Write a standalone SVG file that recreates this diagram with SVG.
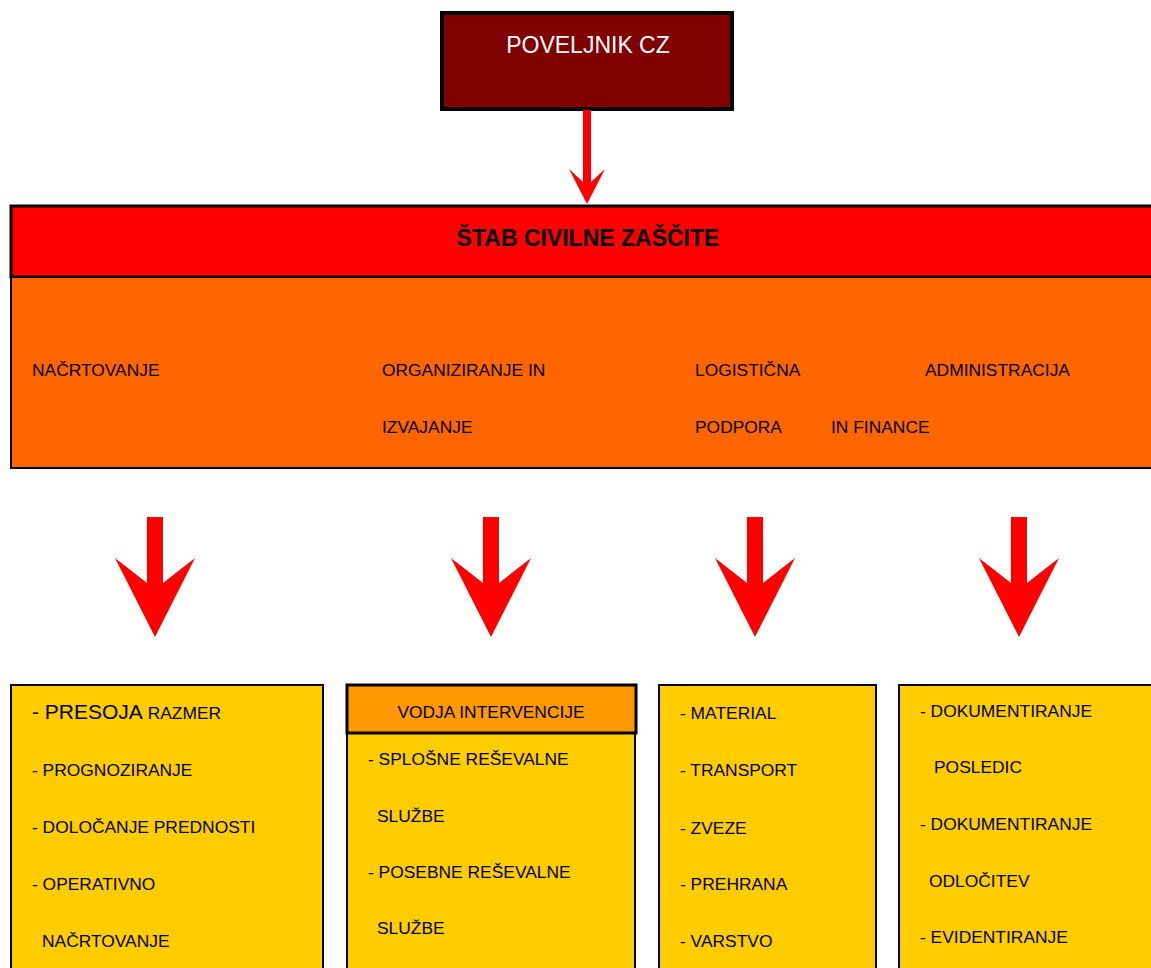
<svg xmlns="http://www.w3.org/2000/svg" width="1151" height="968" viewBox="0 0 1151 968">
<style>
text{font-family:"Liberation Sans",Arial,sans-serif;fill:#000;font-size:17.4px}
.arr{fill:#FF0000}
.yel{fill:#FFCC00;stroke:#000;stroke-width:2}
</style>
<rect width="1151" height="968" fill="#fff"/>
<g id="poveljnik">
<rect x="442" y="13" width="290" height="96" fill="#800000" stroke="#000" stroke-width="4"/>
<text x="588" y="53" text-anchor="middle" style="font-size:23px;fill:#fff">POVELJNIK CZ</text>
</g>
<g id="connectors">
<polygon class="arr" points="583,110 591,110 591,182 605,169 587,204 569,169 583,182"/>
<polygon class="arr" points="147,517 163,517 163,583 195,558 155,637 115,558 147,583"/>
<polygon class="arr" points="483,517 499,517 499,583 531,558 491,637 451,558 483,583"/>
<polygon class="arr" points="747,517 763,517 763,583 795,558 755,637 715,558 747,583"/>
<polygon class="arr" points="1011,517 1027,517 1027,583 1059,558 1019,637 979,558 1011,583"/>
</g>
<g id="stab">
<rect x="11" y="206" width="1145" height="71" fill="#FF0000" stroke="#000" stroke-width="3"/>
<rect x="11" y="277" width="1145" height="191" fill="#FF6600" stroke="#000" stroke-width="2"/>
<text x="588" y="246" text-anchor="middle" style="font-size:23px;font-weight:bold">ŠTAB CIVILNE ZAŠČITE</text>
<text x="32" y="376">NAČRTOVANJE</text>
<text x="382" y="376">ORGANIZIRANJE IN</text>
<text x="382" y="433">IZVAJANJE</text>
<text x="695" y="376">LOGISTIČNA</text>
<text x="695" y="433">PODPORA</text>
<text x="831" y="433">IN FINANCE</text>
<text x="925" y="376">ADMINISTRACIJA</text>
</g>
<g id="nacrtovanje">
<rect class="yel" x="11" y="685" width="312" height="290"/>
<text x="32" y="719"><tspan style="font-size:21px">- PRESOJA</tspan> RAZMER</text>
<text x="32" y="776">- PROGNOZIRANJE</text>
<text x="32" y="833">- DOLOČANJE PREDNOSTI</text>
<text x="32" y="890">- OPERATIVNO</text>
<text x="42" y="947">NAČRTOVANJE</text>
</g>
<g id="intervencija">
<rect class="yel" x="347" y="733" width="288" height="245"/>
<rect x="347" y="685" width="289" height="48" fill="#FF9900" stroke="#000" stroke-width="3"/>
<text x="491" y="718" text-anchor="middle">VODJA INTERVENCIJE</text>
<text x="368" y="765">- SPLOŠNE REŠEVALNE</text>
<text x="377" y="822">SLUŽBE</text>
<text x="368" y="878">- POSEBNE REŠEVALNE</text>
<text x="377" y="934">SLUŽBE</text>
</g>
<g id="logistika">
<rect class="yel" x="659" y="685" width="217" height="290"/>
<text x="680" y="719">- MATERIAL</text>
<text x="680" y="776">- TRANSPORT</text>
<text x="680" y="834">- ZVEZE</text>
<text x="680" y="890">- PREHRANA</text>
<text x="680" y="947">- VARSTVO</text>
</g>
<g id="administracija">
<rect class="yel" x="899" y="685" width="260" height="290"/>
<text x="920" y="717">- DOKUMENTIRANJE</text>
<text x="934" y="773">POSLEDIC</text>
<text x="920" y="830">- DOKUMENTIRANJE</text>
<text x="929" y="887">ODLOČITEV</text>
<text x="920" y="943">- EVIDENTIRANJE</text>
</g>
</svg>
